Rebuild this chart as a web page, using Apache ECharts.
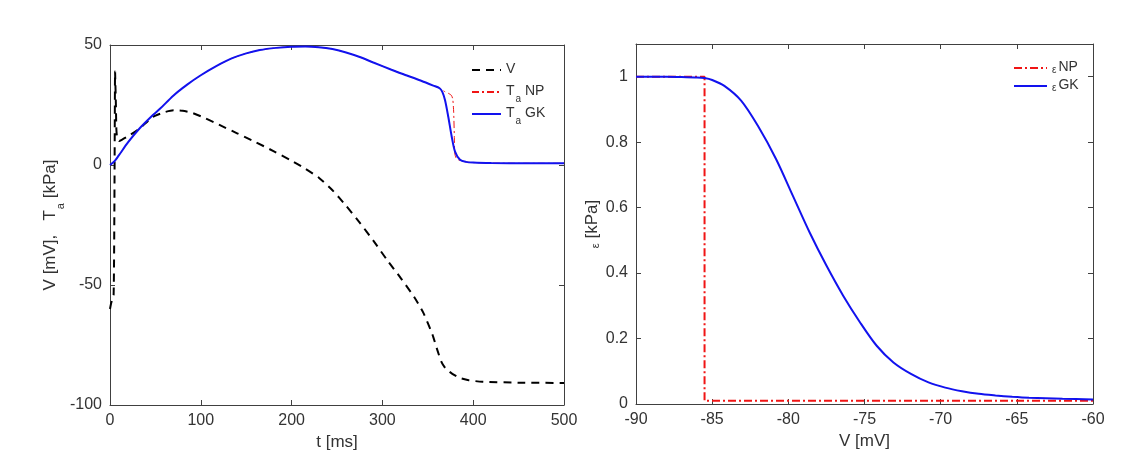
<!DOCTYPE html>
<html>
<head>
<meta charset="utf-8">
<title>V, Ta and epsilon</title>
<script src="https://cdn.jsdelivr.net/npm/echarts@6/dist/echarts.min.js"></script>
<style>
  html, body { margin: 0; padding: 0; background: #fff; }
  #chart { width: 1129px; height: 456px; }
</style>
</head>
<body>
<div id="chart"></div>
<script>
// left panel: membrane potential and active tension over time
const tTicks = [0, 100, 200, 300, 400, 500]
const leftYTicks = [-100, -50, 0, 50]

const tV = [0, 1, 2.5, 4, 4.8, 5.3, 5.6, 6, 6.5, 7, 8, 10, 13, 20, 32, 47, 60, 70, 80, 90, 100, 120, 140, 160, 180, 200, 215, 230, 245, 260, 275, 290, 305, 320, 335, 345, 355, 360, 365, 370, 377, 385, 395, 410, 450, 500]
const vV = [-60, -58, -56, -54, -20, 20, 39, 39, 25, 15, 11, 10, 10.5, 12, 15, 20, 22, 22.8, 22.6, 21.8, 20.3, 16.8, 13.2, 9.6, 5.8, 1.8, -1.5, -5.3, -10.5, -17, -24, -31.5, -39.5, -47, -55, -61.5, -70.5, -76.5, -82, -85, -87, -88.7, -89.7, -90.3, -90.7, -90.8]

const tGK = [0, 5, 9.5, 20, 32, 47, 55, 70, 85, 100, 117, 134, 150, 165, 183, 200, 215, 230, 245, 260, 275, 290, 310, 327, 342, 356, 363, 366, 369, 372.6, 376.3, 380, 385.5, 392, 400, 420, 460, 500]
const taGK = [0, 1.6, 3.9, 9.5, 15, 20.7, 23.4, 29, 33.5, 37.4, 41.2, 44.4, 46.5, 47.9, 48.8, 49.3, 49.4, 49.1, 48.3, 46.9, 45, 42.7, 39.7, 37.3, 35.2, 33.1, 32, 30.5, 27, 20, 11.9, 5.6, 2.2, 1.3, 1.0, 0.8, 0.7, 0.7]

const tNP = [0, 5, 9.5, 20, 32, 47, 55, 70, 85, 100, 117, 134, 150, 165, 183, 200, 215, 230, 245, 260, 275, 290, 310, 327, 342, 356, 363, 366, 369, 373, 376, 377.5, 378.5, 379.2, 379.7, 381, 384, 392, 400, 420, 460, 500]
const taNP = [0, 1.6, 3.9, 9.5, 15, 20.7, 23.4, 29, 33.5, 37.4, 41.2, 44.4, 46.5, 47.9, 48.8, 49.3, 49.4, 49.1, 48.3, 46.9, 45, 42.7, 39.7, 37.3, 35.2, 33.1, 32, 31.3, 30.5, 29.8, 29, 27.5, 22, 12, 5, 3, 2.1, 1.3, 1.0, 0.8, 0.7, 0.7]

// right panel: epsilon against V
const vTicks = [-90, -85, -80, -75, -70, -65, -60]
const epsTicks = [0, 0.2, 0.4, 0.6, 0.8, 1]

const vGK = [-90, -88, -87, -86, -85.5, -85, -84.2, -83.1, -82, -80.8, -79.7, -78.6, -77.5, -76.4, -75.3, -74.2, -73.1, -71.95, -70.8, -69.7, -68.6, -67.5, -66.4, -65.3, -64.2, -62, -60]
const epsGK = [1, 1, 0.999, 0.998, 0.996, 0.99, 0.972, 0.927, 0.85, 0.748, 0.636, 0.524, 0.423, 0.331, 0.25, 0.178, 0.127, 0.092, 0.066, 0.05, 0.039, 0.031, 0.026, 0.022, 0.019, 0.016, 0.014]

const vNP = [-90, -85.5, -85.5, -60]
const epsNP = [1, 1, 0.01, 0.01]

const pairs = (xs, ys) => xs.map((x, i) => [x, ys[i]])

const FONT = 'Liberation Sans'
const AXIS_COLOR = '#404040'
const TEXT_COLOR = '#333'

const frame = { show: true, onZero: false, lineStyle: { color: AXIS_COLOR, width: 1 } }
const ticksIn = { show: true, inside: true, length: 5, lineStyle: { color: AXIS_COLOR } }
const labelStyle = { color: TEXT_COLOR, fontSize: 16, fontFamily: FONT }

// rich styles for the subscripted names (T_a, epsilon)
const nameRich = {
  n: { fontSize: 17, fontFamily: FONT, color: TEXT_COLOR, lineHeight: 20, verticalAlign: 'top' },
  s: { fontSize: 11, fontFamily: FONT, color: TEXT_COLOR, lineHeight: 11, padding: [13, 0, 0, 1], verticalAlign: 'top' },
  e: { fontSize: 11, fontFamily: FONT, color: TEXT_COLOR, lineHeight: 11, padding: [7, 0, 0, 0], verticalAlign: 'top' }
}
const legendRich = {
  n: { fontSize: 14, fontFamily: FONT, color: TEXT_COLOR, lineHeight: 16, verticalAlign: 'top' },
  s: { fontSize: 10, fontFamily: FONT, color: TEXT_COLOR, lineHeight: 10, padding: [10, 0, 0, 1], verticalAlign: 'top' },
  e: { fontSize: 10, fontFamily: FONT, color: TEXT_COLOR, lineHeight: 10, padding: [5, 2, 0, 0], verticalAlign: 'top' }
}

const legendNames = {
  'V': '{n|V}{s| }',
  'Ta NP': '{n|T}{s|a}{n| NP}',
  'Ta GK': '{n|T}{s|a}{n| GK}',
  'eps NP': '{e|ε}{n|NP}',
  'eps GK': '{e|ε}{n|GK}'
}

const valueAxis = (grid, position, ticks, extra) => Object.assign({
  type: 'value',
  gridIndex: grid,
  position: position,
  min: ticks[0],
  max: ticks[ticks.length - 1],
  interval: ticks[1] - ticks[0],
  axisLine: frame,
  axisTick: ticksIn,
  splitLine: { show: false },
  axisLabel: labelStyle
}, extra)

const noLabels = { axisLabel: { show: false } }
const nameStyle = { fontSize: 17, fontFamily: FONT, color: TEXT_COLOR }

const chart = echarts.init(document.getElementById('chart'))

chart.setOption({
  animation: false,
  backgroundColor: '#fff',
  grid: [
    { left: 110, top: 45, width: 454, height: 361 },
    { left: 636, top: 44, width: 457, height: 360 }
  ],
  legend: [
    {
      data: ['V', 'Ta NP', 'Ta GK'],
      orient: 'vertical',
      left: 466,
      top: 57,
      itemWidth: 29,
      itemHeight: 14,
      itemGap: 2,
      itemStyle: { opacity: 0 },
      formatter: (name) => legendNames[name],
      textStyle: { rich: legendRich }
    },
    {
      data: ['eps NP', 'eps GK'],
      orient: 'vertical',
      left: 1008,
      top: 55,
      itemWidth: 33,
      itemHeight: 14,
      itemGap: 3,
      itemStyle: { opacity: 0 },
      formatter: (name) => legendNames[name],
      textStyle: { rich: legendRich }
    }
  ],
  xAxis: [
    valueAxis(0, 'bottom', tTicks, {
      name: 't [ms]',
      nameLocation: 'middle',
      nameGap: 29,
      nameTextStyle: nameStyle
    }),
    valueAxis(0, 'top', tTicks, noLabels),
    valueAxis(1, 'bottom', vTicks, {
      name: 'V [mV]',
      nameLocation: 'middle',
      nameGap: 27,
      nameTextStyle: nameStyle
    }),
    valueAxis(1, 'top', vTicks, noLabels)
  ],
  yAxis: [
    valueAxis(0, 'left', leftYTicks, {
      name: '{n|V [mV],   T}{s|a}{n| [kPa]}',
      nameLocation: 'middle',
      nameRotate: 90,
      nameGap: 48,
      nameTextStyle: { rich: nameRich }
    }),
    valueAxis(0, 'right', leftYTicks, noLabels),
    valueAxis(1, 'left', epsTicks, {
      max: 1.1,
      name: '{e|ε}{n| [kPa]}',
      nameLocation: 'middle',
      nameRotate: 90,
      nameGap: 27,
      nameTextStyle: { rich: nameRich },
      axisLabel: Object.assign({}, labelStyle, { showMaxLabel: false })
    }),
    valueAxis(1, 'right', epsTicks, Object.assign({ max: 1.1 }, noLabels))
  ],
  series: [
    {
      name: 'V',
      type: 'line',
      xAxisIndex: 0,
      yAxisIndex: 0,
      symbol: 'none',
      smooth: 0.2,
      data: pairs(tV, vV),
      lineStyle: { color: '#000', width: 2, type: [8, 6] },
      itemStyle: { color: '#000' }
    },
    {
      name: 'Ta NP',
      type: 'line',
      xAxisIndex: 0,
      yAxisIndex: 0,
      symbol: 'none',
      smooth: 0.2,
      data: pairs(tNP, taNP),
      lineStyle: { color: '#f01515', width: 1, type: [7, 3, 2, 3] },
      itemStyle: { color: '#f01515' }
    },
    {
      name: 'Ta GK',
      type: 'line',
      xAxisIndex: 0,
      yAxisIndex: 0,
      symbol: 'none',
      smooth: 0.3,
      data: pairs(tGK, taGK),
      lineStyle: { color: '#1212ee', width: 2 },
      itemStyle: { color: '#1212ee' }
    },
    {
      name: 'eps NP',
      type: 'line',
      xAxisIndex: 2,
      yAxisIndex: 2,
      symbol: 'none',
      data: pairs(vNP, epsNP),
      lineStyle: { color: '#f01515', width: 2, type: [8, 3, 2, 3] },
      itemStyle: { color: '#f01515' }
    },
    {
      name: 'eps GK',
      type: 'line',
      xAxisIndex: 2,
      yAxisIndex: 2,
      symbol: 'none',
      smooth: 0.3,
      data: pairs(vGK, epsGK),
      lineStyle: { color: '#1212ee', width: 2 },
      itemStyle: { color: '#1212ee' }
    }
  ]
})
</script>
</body>
</html>
